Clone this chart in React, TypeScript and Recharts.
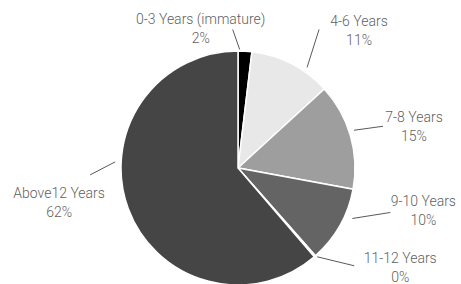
import React from "react";
import { PieChart, Pie, Cell } from "recharts";

const categories = [
  "0-3 Years (immature)",
  "4-6 Years",
  "7-8 Years",
  "9-10 Years",
  "11-12 Years",
  "Above12 Years",
];
const shares = [1.9, 11.3, 14.7, 10.6, 0.2, 61.3];
const shareLabels = ["2%", "11%", "15%", "10%", "0%", "62%"];
const sliceColors = ["#000000", "#e8e8e8", "#9e9e9e", "#646464", "#f2f2f2", "#454545"];

// leader line placement, tuned per label
const labelLayout = [
  { shift: 2.6, gap: 1.5, dx: -7, dy: -20, tx: -32, ty: -1 },
  { shift: -7.3, gap: 5, dx: 12, dy: -38, tx: 40, ty: 1 },
  { shift: 2, gap: 5, dx: 29, dy: -4, tx: 31, ty: 0 },
  { shift: 5.7, gap: 8, dx: 38, dy: -6, tx: 33, ty: -2 },
  { shift: 0.7, gap: 2, dx: 37, dy: 9, tx: 46, ty: 2 },
  { shift: -23.2, gap: 6, dx: -25, dy: 13, tx: -31, ty: 28 },
];

const RAD = Math.PI / 180;

const renderLabel = (props: any) => {
  const { cx, cy, outerRadius, midAngle, index } = props;
  const l = labelLayout[index];
  const a = (midAngle + l.shift) * RAD;
  const r = outerRadius + l.gap;
  const x1 = cx + r * Math.cos(-a);
  const y1 = cy + r * Math.sin(-a);
  const x2 = x1 + l.dx;
  const y2 = y1 + l.dy;
  const tx = x2 + l.tx;
  const ty = y2 + l.ty;
  return (
    <g>
      <line x1={x1} y1={y1} x2={x2} y2={y2} stroke="#595959" strokeWidth={1} />
      <text
        x={tx}
        y={ty}
        textAnchor="middle"
        fill="#5f5f5f"
        fontSize={14}
        fontFamily="Roboto"
        fontWeight={300}
      >
        <tspan x={tx} y={ty - 9.5} dominantBaseline="central">
          {categories[index]}
        </tspan>
        <tspan x={tx} y={ty + 9.5} dominantBaseline="central">
          {shareLabels[index]}
        </tspan>
      </text>
    </g>
  );
};

export default function App() {
  const data = categories.map((name, i) => ({ name, value: shares[i] }));
  return (
    <div style={{ position: "absolute", left: 0, top: 0, background: "#fff" }}>
      <PieChart width={461} height={284} margin={{ top: 0, right: 0, bottom: 0, left: 0 }}>
        <Pie
          data={data}
          dataKey="value"
          cx={238}
          cy={168}
          outerRadius={117}
          startAngle={90}
          endAngle={-270}
          stroke="#ffffff"
          strokeWidth={1.5}
          label={renderLabel}
          labelLine={false}
          isAnimationActive={false}
        >
          {data.map((d, i) => (
            <Cell key={d.name} fill={sliceColors[i]} />
          ))}
        </Pie>
      </PieChart>
    </div>
  );
}
